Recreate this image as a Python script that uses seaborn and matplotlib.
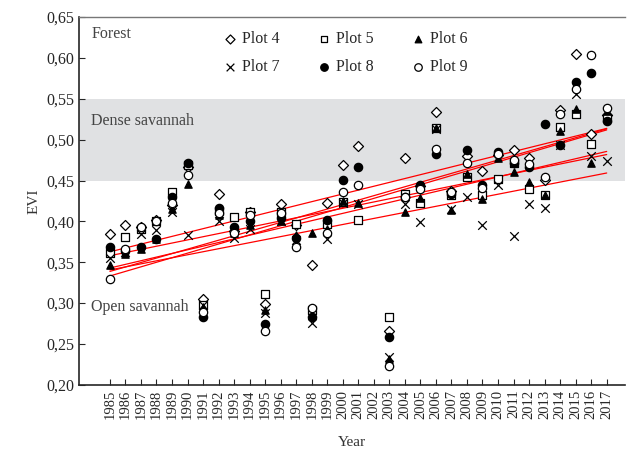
import numpy as np
import pandas as pd
import seaborn as sns
import matplotlib.pyplot as plt
from matplotlib.ticker import FuncFormatter

years = list(range(1985, 2018))

# EVI per plot (2002 has no data)
plot4 = [0.385, 0.396, 0.393, 0.402, 0.420, 0.467, 0.305, 0.433, 0.388, 0.411, 0.299,
         0.421, 0.396, 0.347, 0.423, 0.469, 0.492, np.nan, 0.266, 0.477, 0.443, 0.534,
         0.437, 0.480, 0.462, 0.481, 0.487, 0.477, 0.450, 0.536, 0.605, 0.507, 0.530]
plot5 = [0.361, 0.381, 0.391, 0.401, 0.436, 0.469, 0.298, 0.413, 0.405, 0.411, 0.311,
         0.411, 0.397, 0.291, 0.397, 0.424, 0.402, np.nan, 0.283, 0.433, 0.422, 0.514,
         0.432, 0.454, 0.432, 0.452, 0.471, 0.440, 0.432, 0.515, 0.531, 0.495, 0.527]
plot6 = [0.346, 0.360, 0.366, 0.378, 0.415, 0.446, 0.295, 0.408, 0.386, 0.395, 0.291,
         0.400, 0.383, 0.386, 0.391, 0.425, 0.422, np.nan, 0.232, 0.411, 0.429, 0.514,
         0.414, 0.458, 0.427, 0.478, 0.461, 0.448, 0.432, 0.510, 0.537, 0.472, 0.535]
plot7 = [0.355, 0.362, 0.385, 0.389, 0.411, 0.383, 0.298, 0.400, 0.380, 0.391, 0.288,
         0.400, 0.377, 0.276, 0.379, 0.422, 0.421, np.nan, 0.234, 0.421, 0.399, 0.513,
         0.415, 0.430, 0.395, 0.445, 0.382, 0.421, 0.416, 0.494, 0.556, 0.480, 0.474]
plot8 = [0.368, 0.364, 0.369, 0.379, 0.430, 0.472, 0.283, 0.416, 0.393, 0.401, 0.274,
         0.404, 0.380, 0.283, 0.402, 0.451, 0.466, np.nan, 0.258, 0.430, 0.445, 0.482,
         0.434, 0.487, 0.445, 0.485, 0.472, 0.466, 0.519, 0.493, 0.571, 0.581, 0.523]
plot9 = [0.329, 0.366, 0.393, 0.400, 0.422, 0.457, 0.289, 0.410, 0.386, 0.408, 0.266,
         0.410, 0.369, 0.294, 0.386, 0.436, 0.445, np.nan, 0.223, 0.430, 0.440, 0.489,
         0.436, 0.472, 0.441, 0.483, 0.475, 0.470, 0.454, 0.532, 0.562, 0.604, 0.539]

plots = {"Plot 4": plot4, "Plot 5": plot5, "Plot 6": plot6,
         "Plot 7": plot7, "Plot 8": plot8, "Plot 9": plot9}

# marker, face colour, size
styles = {"Plot 4": ("D", "white", 26),
          "Plot 5": ("s", "white", 30),
          "Plot 6": ("^", "black", 28),
          "Plot 7": ("x", "black", 38),
          "Plot 8": ("o", "black", 36),
          "Plot 9": ("o", "white", 36)}

df = pd.DataFrame(plots, index=years)
df.index.name = "Year"
long = df.reset_index().melt(id_vars="Year", var_name="Plot", value_name="EVI").dropna()

sns.set_style("ticks")
plt.rcParams['font.family'] = ['Liberation Serif', 'DejaVu Serif']

fig = plt.figure(figsize=(6.31, 4.5), dpi=100)
ax = fig.add_axes([0.125, 0.145, 0.866, 0.817])

ax.axhspan(0.45, 0.55, color='#e0e1e3', lw=0, zorder=0)

# regression lines
for name in plots:
    sub = long[long["Plot"] == name]
    sns.regplot(data=sub, x="Year", y="EVI", scatter=False, ci=None, ax=ax,
                color='red', line_kws={'lw': 0.9, 'zorder': 2})

handles = {}
for name in plots:
    sub = long[long["Plot"] == name]
    m, fc, s = styles[name]
    if m == "x":
        sns.scatterplot(data=sub, x="Year", y="EVI", marker=m, color='black', s=s,
                        linewidth=0.9, ax=ax, zorder=3)
    else:
        sns.scatterplot(data=sub, x="Year", y="EVI", marker=m, facecolor=fc,
                        edgecolor='black', s=s, linewidth=0.9, ax=ax, zorder=3)
    handles[name] = ax.collections[-1]

order = ["Plot 4", "Plot 7", "Plot 5", "Plot 8", "Plot 6", "Plot 9"]
ax.legend([handles[k] for k in order], order, ncol=3, frameon=False,
          loc='upper center', bbox_to_anchor=(0.485, 1.0), fontsize=11.5,
          handletextpad=0.15, columnspacing=2.2, labelspacing=0.75, markerscale=0.9,
          handlelength=1.2)

ax.text(1983.8, 0.629, "Forest", fontsize=11.5, color='#444444', va='center')
ax.text(1983.8, 0.523, "Dense savannah", fontsize=11.5, color='#444444', va='center')
ax.text(1983.8, 0.295, "Open savannah", fontsize=11.5, color='#444444', va='center')

ax.set_xlim(1983, 2018.2)
ax.set_ylim(0.20, 0.65)
ax.set_xticks(years)
ax.set_xticklabels([str(y) for y in years], rotation=90, fontsize=10.5)
ax.set_yticks(np.arange(0.20, 0.651, 0.05))
ax.yaxis.set_major_formatter(FuncFormatter(lambda v, p: f"{v:.2f}".replace(".", ",")))
ax.tick_params(axis='y', labelsize=11.5)
ax.tick_params(direction='in', length=4, width=0.8)
ax.set_xlabel("Year", fontsize=11, color='#333333', labelpad=12)
ax.set_ylabel("EVI", fontsize=11, color='#333333')

for side in ['left', 'bottom']:
    ax.spines[side].set_linewidth(1.2)
ax.spines['top'].set_color('#777777')
ax.spines['top'].set_linewidth(1.0)
ax.spines['right'].set_visible(False)

fig.savefig("out.png", dpi=100)
